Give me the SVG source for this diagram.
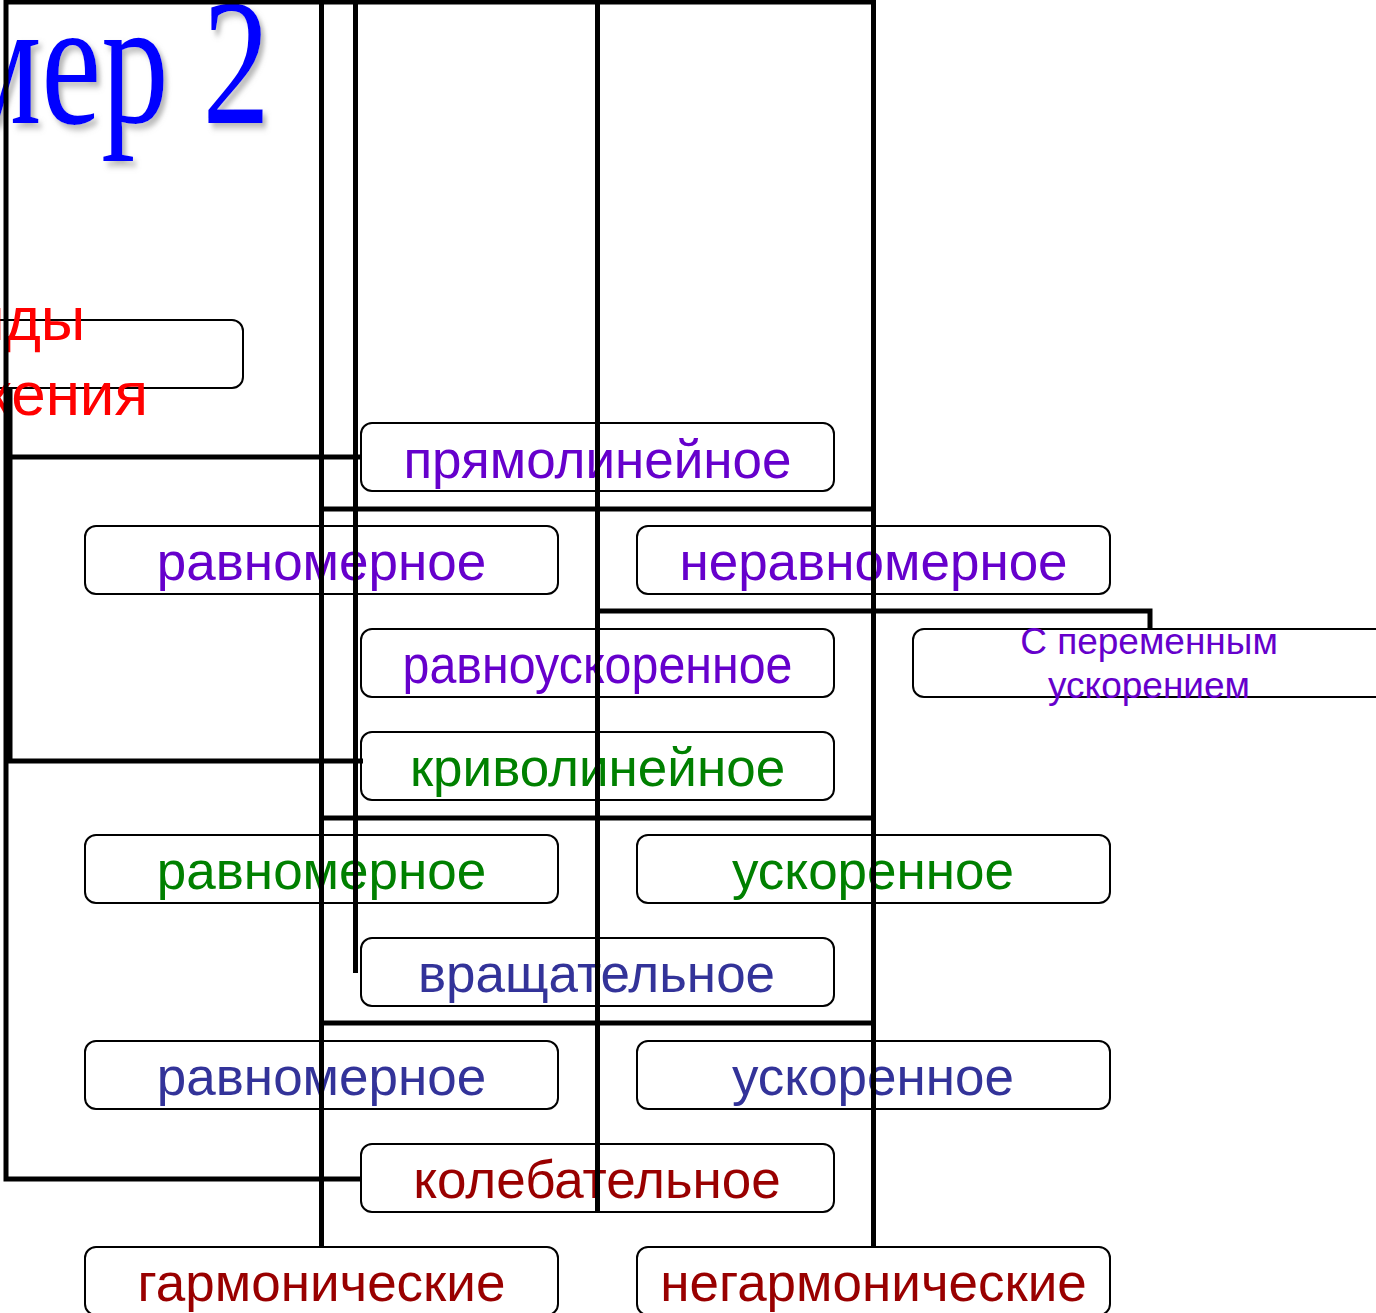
<svg xmlns="http://www.w3.org/2000/svg" width="1376" height="1313" viewBox="0 0 1376 1313">
<defs>
<filter id="sh" x="-10%" y="-10%" width="130%" height="130%">
<feDropShadow dx="5" dy="5" stdDeviation="3" flood-color="#888888" flood-opacity="0.6"/>
</filter>
<style>
.box{fill:#FFFFFF;stroke:#000000;stroke-width:2}
.t{font-family:"Liberation Sans",Arial,sans-serif;font-size:53px;text-anchor:middle}
.p{fill:#6600CC}.g{fill:#008000}.b{fill:#333399}.r{fill:#990000}
.c{fill:none;stroke:#000000;stroke-width:5}
</style>
</defs>
<rect width="1376" height="1313" fill="#FFFFFF"/>
<g id="title">
<text transform="translate(270,123) scale(0.75,1)" font-family="'Liberation Serif','Times New Roman',serif" font-size="180" fill="#0000FF" text-anchor="end" filter="url(#sh)">Пример 2</text>
</g>
<g id="n-vidy">
<rect class="box" x="-240" y="320" width="483" height="68" rx="11"/>
<text x="7" y="340" font-family="'Liberation Sans',Arial,sans-serif" font-size="62" fill="#FF0000" text-anchor="middle">Виды</text>
<text x="7" y="415" font-family="'Liberation Sans',Arial,sans-serif" font-size="62" fill="#FF0000" text-anchor="middle">движения</text>
</g>
<g id="n-pryamo"><rect class="box" x="361" y="423" width="473" height="68" rx="11"/><text class="t p" x="597.5" y="478">прямолинейное</text></g>
<g id="n-ravn1"><rect class="box" x="85" y="526" width="473" height="68" rx="11"/><text class="t p" x="321.5" y="580">равномерное</text></g>
<g id="n-neravn"><rect class="box" x="637" y="526" width="473" height="68" rx="11"/><text class="t p" x="873.5" y="580">неравномерное</text></g>
<g id="n-ravnousk"><rect class="box" x="361" y="629" width="473" height="68" rx="11"/><text class="t p" x="597.5" y="683" textLength="390" lengthAdjust="spacingAndGlyphs">равноускоренное</text></g>
<g id="n-perem"><rect class="box" x="913" y="629" width="520" height="68" rx="11"/>
<text x="1149" y="654" font-family="'Liberation Sans',Arial,sans-serif" font-size="37" fill="#6600CC" text-anchor="middle">С переменным</text>
<text x="1149" y="698" font-family="'Liberation Sans',Arial,sans-serif" font-size="37" fill="#6600CC" text-anchor="middle">ускорением</text></g>
<g id="n-krivo"><rect class="box" x="361" y="732" width="473" height="68" rx="11"/><text class="t g" x="597.5" y="786">криволинейное</text></g>
<g id="n-ravn2"><rect class="box" x="85" y="835" width="473" height="68" rx="11"/><text class="t g" x="321.5" y="889">равномерное</text></g>
<g id="n-usk1"><rect class="box" x="637" y="835" width="473" height="68" rx="11"/><text class="t g" x="873" y="889">ускоренное</text></g>
<g id="n-vrash"><rect class="box" x="361" y="938" width="473" height="68" rx="11"/><text class="t b" x="596.5" y="992">вращательное</text></g>
<g id="n-ravn3"><rect class="box" x="85" y="1041" width="473" height="68" rx="11"/><text class="t b" x="321.5" y="1095">равномерное</text></g>
<g id="n-usk2"><rect class="box" x="637" y="1041" width="473" height="68" rx="11"/><text class="t b" x="873" y="1095">ускоренное</text></g>
<g id="n-koleb"><rect class="box" x="361" y="1144" width="473" height="68" rx="11"/><text class="t r" x="597" y="1198">колебательное</text></g>
<g id="n-garm"><rect class="box" x="85" y="1247" width="473" height="68" rx="11"/><text class="t r" x="321.5" y="1301">гармонические</text></g>
<g id="n-negarm"><rect class="box" x="637" y="1247" width="473" height="68" rx="11"/><text class="t r" x="873.5" y="1301">негармонические</text></g>
<g id="connectors">
<path class="c" d="M6,0 V1179 H361"/>
<path class="c" d="M6,2 H876"/>
<path class="c" d="M6,457 H361"/>
<path class="c" d="M10,388 V761 H363"/>
<path class="c" d="M321.5,0 V1248"/>
<path class="c" d="M355.5,0 V973"/>
<path class="c" d="M597.5,0 V1213"/>
<path class="c" d="M873.5,0 V1248"/>
<path class="c" d="M321.5,509 H873.5"/>
<path class="c" d="M597.5,611 H1150 V629"/>
<path class="c" d="M321.5,818 H873.5"/>
<path class="c" d="M321.5,1023 H873.5"/>
</g>
</svg>
